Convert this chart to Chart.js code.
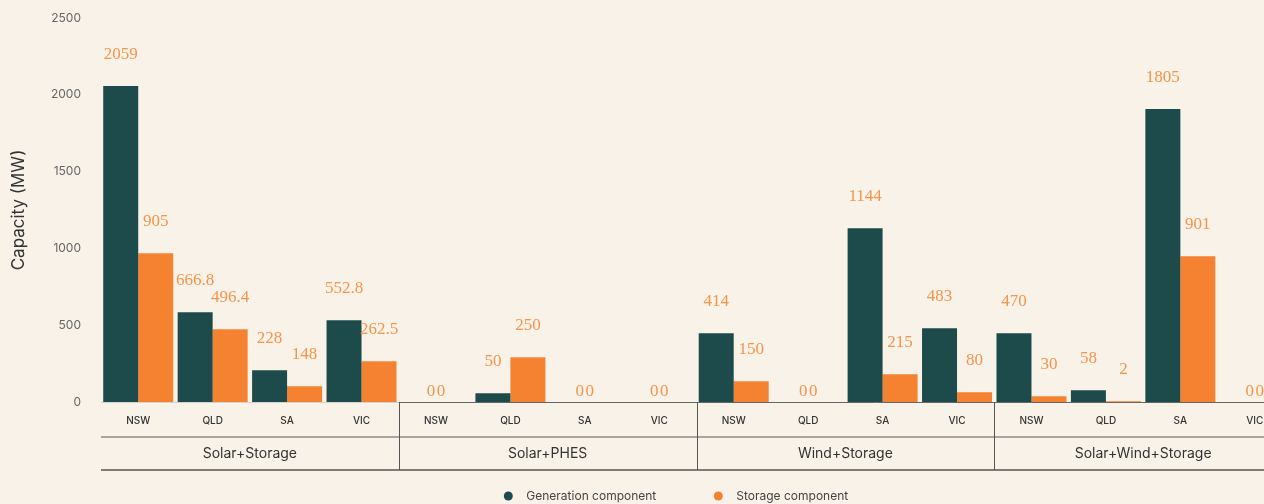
<!DOCTYPE html>
<html>
<head>
<meta charset="utf-8">
<script src="https://cdn.jsdelivr.net/npm/chart.js@4.4.1/dist/chart.umd.min.js"></script>
<style>
  html, body { margin: 0; padding: 0; background: #f9f2e8; overflow: hidden; }
  #wrap { width: 1352px; height: 504px; }
</style>
</head>
<body>
<div id="wrap"><canvas id="capacityChart"></canvas></div>
<script>
// Data
const groups = ['Solar+Storage', 'Solar+PHES', 'Wind+Storage', 'Solar+Wind+Storage'];
const states = ['NSW', 'QLD', 'SA', 'VIC'];
const generationMW = [2057, 584, 207, 532, 0, 57, 0, 0, 448, 0, 1131, 480, 448, 76, 1907, 0];
const storageMW = [968, 473, 102, 265, 0, 291, 0, 0, 135, 0, 180, 63, 37, 5, 949, 0];
// Printed labels (they differ a little from the bar heights in the original)
const generationLabels = ['2059', '666.8', '228', '552.8', '0', '50', '0', '0', '414', '0', '1144', '483', '470', '58', '1805', '0'];
const storageLabels = ['905', '496.4', '148', '262.5', '0', '250', '0', '0', '150', '0', '215', '80', '30', '2', '901', '0'];
const yTicks = [0, 500, 1000, 1500, 2000, 2500];

const seriesNames = ['Generation component', 'Storage component'];
const seriesColors = ['#1d4a4b', '#f58231'];

const categories = groups.flatMap(() => states);

// Value labels above bars
const barLabels = {
    id: 'barLabels',
    afterDatasetsDraw(chart) {
        const ctx = chart.ctx;
        const xs = chart.scales.x;
        const bottom = chart.chartArea.bottom;
        ctx.save();
        ctx.font = '17px "Liberation Serif"';
        ctx.fillStyle = '#f5944b';
        ctx.textAlign = 'center';
        ctx.textBaseline = 'middle';
        [generationLabels, storageLabels].forEach((texts, d) => {
            const meta = chart.getDatasetMeta(d);
            meta.data.forEach((bar, i) => {
                const value = chart.data.datasets[d].data[i];
                let x = bar.x;
                let y = bar.y - 32;
                if (value === 0) {
                    x = xs.getPixelForValue(i) + (d === 0 ? -5 : 5);
                    y = bottom - 10;
                }
                ctx.fillText(texts[i], x, y);
            });
        });
        ctx.restore();
    }
};

// Second row of the x axis (groups), the lines, and the legend
const groupAxis = {
    id: 'groupAxis',
    afterDraw(chart) {
        const { ctx, chartArea } = chart;
        const xs = chart.scales.x;
        const bottom = chartArea.bottom;
        const half = (xs.getPixelForValue(1) - xs.getPixelForValue(0)) / 2;
        const edge = i => xs.getPixelForValue(i) - half;
        const per = states.length;

        ctx.save();
        // axis line
        ctx.lineWidth = 1;
        ctx.strokeStyle = '#d6d1ca';
        ctx.beginPath();
        ctx.moveTo(chartArea.left, bottom + 0.5);
        ctx.lineTo(edge(per), bottom + 0.5);
        ctx.stroke();
        ctx.strokeStyle = '#666';
        ctx.beginPath();
        ctx.moveTo(edge(per), bottom + 0.5);
        ctx.lineTo(chart.width, bottom + 0.5);
        ctx.stroke();

        // middle and bottom rules
        ctx.lineWidth = 2;
        ctx.strokeStyle = '#a8a39c';
        ctx.beginPath();
        ctx.moveTo(chartArea.left, bottom + 35);
        ctx.lineTo(chart.width, bottom + 35);
        ctx.stroke();
        ctx.lineWidth = 1.5;
        ctx.strokeStyle = '#555';
        ctx.beginPath();
        ctx.moveTo(chartArea.left, bottom + 68);
        ctx.lineTo(chart.width, bottom + 68);
        ctx.stroke();

        // group separators
        ctx.lineWidth = 1;
        for (let g = 1; g < groups.length; g++) {
            const x = Math.round(edge(g * per)) + 0.5;
            ctx.beginPath();
            ctx.moveTo(x, bottom);
            ctx.lineTo(x, bottom + 68);
            ctx.stroke();
        }

        // group names
        ctx.font = '14px Inter';
        ctx.fillStyle = '#333';
        ctx.textAlign = 'center';
        ctx.textBaseline = 'middle';
        groups.forEach((name, g) => {
            const mid = (edge(g * per) + edge((g + 1) * per)) / 2;
            ctx.fillText(name, mid, bottom + 52);
        });

        // legend
        ctx.font = '12px Inter';
        const r = 4.5, textGap = 18, itemGap = 57.5;
        const widths = seriesNames.map(n => ctx.measureText(n).width);
        const total = widths.reduce((a, w) => a + 2 * r + (textGap - r) + w, 0) + itemGap;
        let cx = chart.width / 2 - total / 2 + r;
        const ly = 496;
        ctx.textAlign = 'left';
        seriesNames.forEach((n, k) => {
            ctx.fillStyle = seriesColors[k];
            ctx.beginPath();
            ctx.arc(cx, ly, r, 0, Math.PI * 2);
            ctx.fill();
            ctx.fillStyle = '#444';
            ctx.fillText(n, cx + textGap, ly);
            cx += textGap + widths[k] + itemGap + r;
        });
        ctx.restore();
    }
};

Chart.defaults.font.family = 'Inter';

const ctx = document.getElementById('capacityChart').getContext('2d');

new Chart(ctx, {
    type: 'bar',
    data: {
        labels: categories,
        datasets: [
            {
                label: seriesNames[0],
                data: generationMW,
                backgroundColor: seriesColors[0],
                categoryPercentage: 0.94,
                barPercentage: 1.0
            },
            {
                label: seriesNames[1],
                data: storageMW,
                backgroundColor: seriesColors[1],
                categoryPercentage: 0.94,
                barPercentage: 1.0
            }
        ]
    },
    options: {
        responsive: true,
        maintainAspectRatio: false,
        animation: false,
        layout: { padding: { top: 18, right: 60, left: 0, bottom: 0 } },
        scales: {
            y: {
                min: 0,
                max: 2500,
                afterBuildTicks: scale => { scale.ticks = yTicks.map(v => ({ value: v })); },
                afterFit: scale => {
                    scale.width = 101;
                    // tick padding is only meant to push labels sideways
                    scale.paddingTop = 8;
                    scale.paddingBottom = 8;
                },
                grid: { display: false, drawTicks: false },
                border: { display: false },
                ticks: {
                    padding: 20,
                    color: '#666',
                    font: { size: 12 },
                    callback: v => String(v)
                },
                title: {
                    display: true,
                    text: 'Capacity (MW)',
                    color: '#333',
                    font: { size: 17 },
                    padding: { top: 9, bottom: 0 }
                }
            },
            x: {
                afterFit: scale => { scale.height = 102; },
                grid: { display: false, drawTicks: false },
                border: { display: false },
                ticks: {
                    padding: 13,
                    color: '#333',
                    autoSkip: false,
                    maxRotation: 0,
                    font: { size: 10, weight: '500' }
                }
            }
        },
        plugins: {
            legend: { display: false },
            tooltip: { enabled: false }
        }
    },
    plugins: [barLabels, groupAxis]
});
</script>
</body>
</html>
